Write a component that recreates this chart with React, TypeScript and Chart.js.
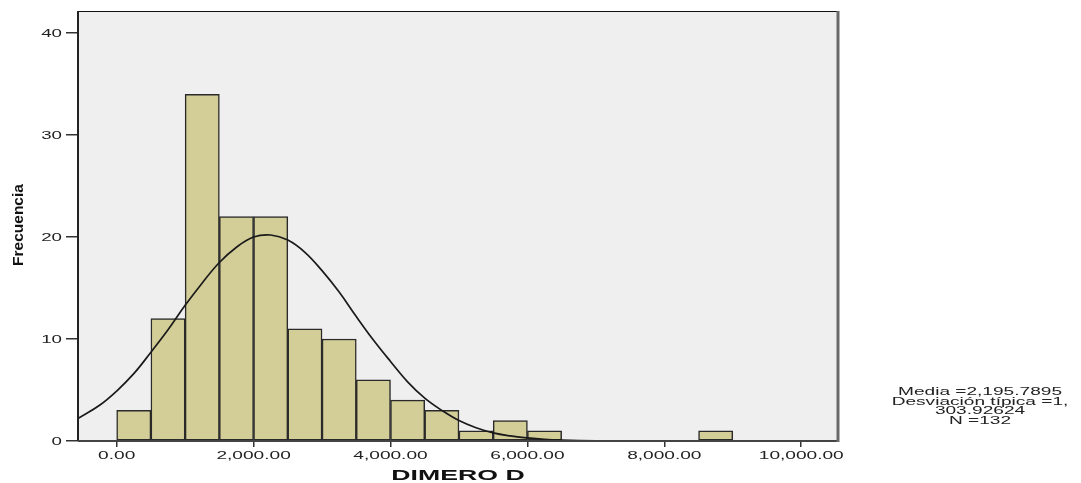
import React, { useEffect, useRef } from "react";
import { Chart, registerables } from "chart.js";

Chart.register(...registerables);

// ---- data ----
const binCenters = [250, 750, 1250, 1750, 2250, 2750, 3250, 3750, 4250, 4750, 5250, 5750, 6250, 8750];
const binCounts = [3, 12, 34, 22, 22, 11, 10, 6, 4, 3, 1, 2, 1, 1];

const curveX = [-565, -250, 0, 250, 500, 750, 1000, 1250, 1500, 1750, 2000, 2250, 2500, 2750, 3000, 3250, 3500, 3750, 4000, 4250, 4500, 4750, 5000, 5250, 5500, 5750, 6000, 6250, 6500, 7000, 7500, 8000, 9000, 10000, 10537];
const curveY = [2.2, 3.5, 4.9, 6.6, 8.7, 10.9, 13.3, 15.5, 17.5, 19.0, 20.0, 20.2, 19.7, 18.5, 16.7, 14.6, 12.2, 9.9, 7.8, 5.8, 4.2, 3.0, 2.0, 1.3, 0.8, 0.5, 0.3, 0.16, 0.09, 0.02, 0.005, 0, 0, 0, 0];

const xTickValues = [0, 2000, 4000, 6000, 8000, 10000];
const xTickLabels = ["0.00", "2,000.00", "4,000.00", "6,000.00", "8,000.00", "10,000.00"];
const yTickValues = [0, 10, 20, 30, 40];
const yTickLabels = ["0", "10", "20", "30", "40"];

const xTitle = "DIMERO D";
const yTitle = "Frecuencia";
const statsLines = ["Media =2,195.7895", "Desviación típica =1,", "303.92624", "N =132"];

const FONT = "'Liberation Sans', Arial, sans-serif";
const SX = 1.66;

function stretchText(ctx: CanvasRenderingContext2D, text: string, x: number, y: number, align: CanvasTextAlign, baseline: CanvasTextBaseline, sx: number) {
  ctx.save();
  ctx.translate(x, y);
  ctx.scale(sx, 1);
  ctx.textAlign = align;
  ctx.textBaseline = baseline;
  ctx.fillText(text, 0, 0);
  ctx.restore();
}

const framePlugin = {
  id: "spssFrame",
  beforeDatasetsDraw(chart: any) {
    const { ctx, chartArea: a } = chart;
    ctx.save();
    ctx.fillStyle = "#EFEFEF";
    ctx.fillRect(a.left, a.top, a.right - a.left, a.bottom - a.top);
    ctx.restore();
  },
  afterDraw(chart: any) {
    const { ctx, chartArea: a, scales } = chart;
    ctx.save();
    // frame
    ctx.lineWidth = 1;
    ctx.strokeStyle = "#111";
    ctx.beginPath();
    ctx.moveTo(a.left, a.top + 0.5);
    ctx.lineTo(a.right, a.top + 0.5);
    ctx.stroke();
    ctx.lineWidth = 2;
    ctx.strokeStyle = "#222";
    ctx.beginPath();
    ctx.moveTo(a.left, a.top);
    ctx.lineTo(a.left, a.bottom);
    ctx.stroke();
    ctx.lineWidth = 2;
    ctx.strokeStyle = "#444";
    ctx.beginPath();
    ctx.moveTo(a.left, a.bottom);
    ctx.lineTo(a.right, a.bottom);
    ctx.stroke();
    ctx.lineWidth = 3;
    ctx.strokeStyle = "#6a6a6a";
    ctx.beginPath();
    ctx.moveTo(a.right, a.top);
    ctx.lineTo(a.right, a.bottom + 1);
    ctx.stroke();

    // tick labels
    ctx.fillStyle = "#222";
    ctx.font = `11.5px ${FONT}`;
    xTickValues.forEach((v, i) => {
      const px = scales.x.getPixelForValue(v);
      stretchText(ctx, xTickLabels[i], px, 459, "center", "alphabetic", SX);
    });
    ctx.font = `11px ${FONT}`;
    yTickValues.forEach((v, i) => {
      const py = scales.y.getPixelForValue(v);
      stretchText(ctx, yTickLabels[i], 62, py + 0.5, "right", "middle", 1.7);
    });

    // axis titles
    ctx.fillStyle = "#111";
    ctx.font = `bold 15.5px ${FONT}`;
    stretchText(ctx, xTitle, (a.left + a.right) / 2, 479.5, "center", "alphabetic", 1.72);
    ctx.save();
    ctx.translate(23, 225);
    ctx.rotate(-Math.PI / 2);
    ctx.font = `bold 15.5px ${FONT}`;
    ctx.textAlign = "center";
    ctx.textBaseline = "alphabetic";
    ctx.fillText(yTitle, 0, 0);
    ctx.restore();

    // stats
    ctx.fillStyle = "#222";
    ctx.font = `11.5px ${FONT}`;
    statsLines.forEach((t, i) => {
      stretchText(ctx, t, 980, 395 + i * 9.5, "center", "alphabetic", SX);
    });
    ctx.restore();
  },
};

export default function App() {
  const ref = useRef<HTMLCanvasElement | null>(null);
  useEffect(() => {
    if (!ref.current) return;
    const chart = new Chart(ref.current, {
      type: "bar",
      data: {
        datasets: [
          {
            type: "line",
            data: curveX.map((x, i) => ({ x, y: curveY[i] })),
            borderColor: "#1a1a1a",
            borderWidth: 1.7,
            pointRadius: 0,
            fill: false,
            tension: 0.4,
            order: 0,
          } as any,
          {
            type: "bar",
            data: binCenters.map((x, i) => ({ x, y: binCounts[i] })),
            backgroundColor: "#D3CE98",
            borderColor: "#2a2a2a",
            borderWidth: 1.5,
            borderSkipped: false,
            barPercentage: 1,
            categoryPercentage: 1,
            order: 1,
          } as any,
        ],
      },
      options: {
        animation: false,
        responsive: false,
        devicePixelRatio: 1,
        layout: { padding: { top: 11, right: 243, left: 0, bottom: 0 } },
        plugins: { legend: { display: false }, tooltip: { enabled: false } },
        scales: {
          x: {
            type: "linear",
            min: -565,
            max: 10537,
            offset: false,
            afterBuildTicks: (s: any) => {
              s.ticks = xTickValues.map((v) => ({ value: v }));
            },
            afterFit: (s: any) => {
              s.height = 42;
            },
            ticks: { display: false },
            grid: { offset: false, drawOnChartArea: false, drawTicks: true, tickLength: 6, color: "#333", lineWidth: 1.5 },
            border: { display: false },
          },
          y: {
            type: "linear",
            min: 0,
            max: 42.16,
            afterBuildTicks: (s: any) => {
              s.ticks = yTickValues.map((v) => ({ value: v }));
            },
            afterFit: (s: any) => {
              s.width = 78;
            },
            ticks: { display: false },
            grid: { offset: false, drawOnChartArea: false, drawTicks: true, tickLength: 12, color: "#333", lineWidth: 1.5 },
            border: { display: false },
          },
        },
      } as any,
      plugins: [framePlugin],
    });
    return () => chart.destroy();
  }, []);
  return (
    <div style={{ position: "fixed", left: 0, top: 0, width: 1081, height: 483, background: "#fff" }}>
      <canvas ref={ref} width={1081} height={483} style={{ display: "block", width: 1081, height: 483 }} />
    </div>
  );
}
